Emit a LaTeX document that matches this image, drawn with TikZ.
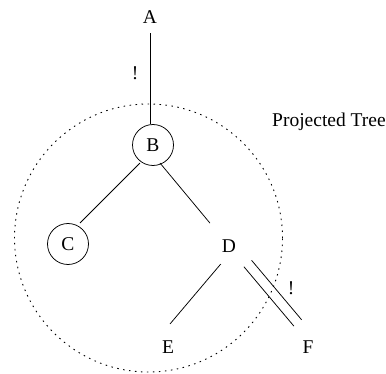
\documentclass[tikz,border=0pt]{standalone}
\usepackage{fontspec}
\setmainfont{Liberation Serif}
\begin{document}
\begin{tikzpicture}[x=1pt,y=1pt,
  every node/.style={font=\fontsize{19.5}{22}\selectfont, inner sep=0pt},
  conn/.style={line width=0.75pt},
  circ/.style={draw, circle, line width=0.75pt, minimum size=41pt},
  dotcirc/.style={line width=0.9pt, dash pattern=on 1.5pt off 4.5pt}]
\useasboundingbox (0,0) rectangle (386,373);
\node (A) at (150,356) {A};
\node[circ] (B) at (153,228) {B};
\node[circ] (C) at (68,129) {C};
\node (D) at (229,127) {D};
\node (E) at (168,26) {E};
\node (F) at (308,26) {F};
\node (ex1) at (135,300) {!};
\node (ex2) at (291,85) {!};
\node[anchor=base west] (pt) at (272,246) {Projected Tree};
\draw[conn, shorten <=9.5pt] (A.south) -- (A.south |- B.north);
\draw[conn, shorten <=25.5pt, shorten >=29.7pt] ([xshift=5pt]B.center) -- ([xshift=-9pt]C.center);
\draw[conn, shorten <=23.4pt, shorten >=29.8pt] ([xshift=-8pt]B.center) -- (D.center);
\draw[conn, shorten <=23.6pt, shorten >=30.2pt] ([xshift=7pt]D.center) -- ([xshift=-17.5pt]E.center);
\draw[conn, shorten <=22.9pt, shorten >=31.4pt] ([xshift=0.17pt,yshift=-3.21pt]D.center) -- ([xshift=6.17pt,yshift=-3.21pt]F.center);
\draw[conn, shorten <=22.9pt, shorten >=31.4pt] ([xshift=7.83pt,yshift=3.21pt]D.center) -- ([xshift=13.83pt,yshift=3.21pt]F.center);
\draw[dotcirc] (148.5,135) circle[radius=134];
\end{tikzpicture}
\end{document}
